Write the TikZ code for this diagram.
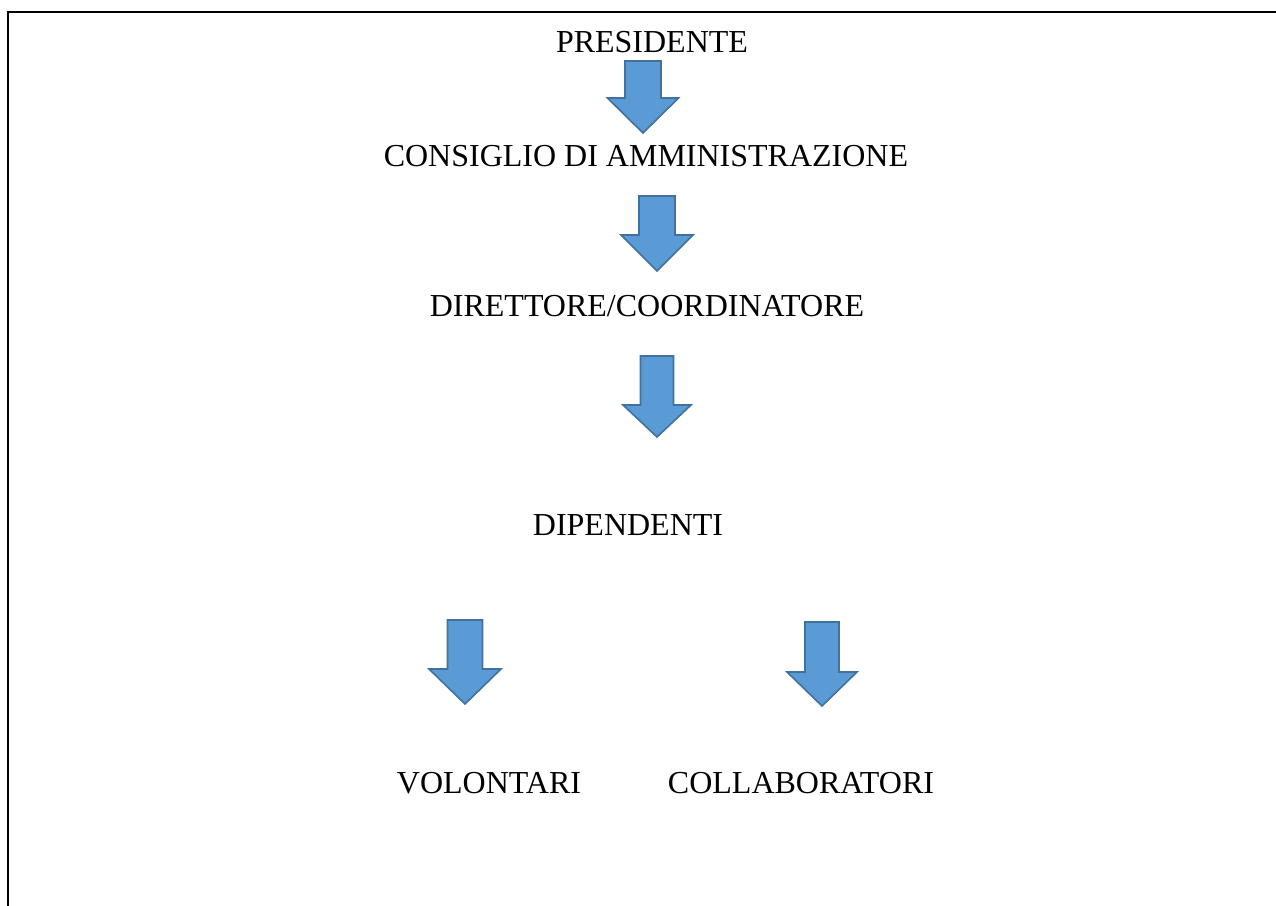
\documentclass[tikz,border=0pt]{standalone}
\usepackage{fontspec}
\setmainfont{Liberation Serif}
\usetikzlibrary{positioning}
\definecolor{arrfill}{HTML}{5B9BD5}
\definecolor{arrline}{HTML}{41719C}
\tikzset{lbl/.style={anchor=base, inner sep=0pt, font=\fontsize{16}{19}\selectfont}}
\tikzset{blockarr/.style={draw=arrline, fill=arrfill, line width=0.8pt, line join=miter}}
\tikzset{frameline/.style={draw=black, line width=1pt}}
% block arrow pointing down: centre x, top y, head y, tip y, shaft half, head half
\newcommand{\blockdown}[6]{%
  \draw[blockarr] ({#1-#5},#2) -- ({#1+#5},#2) -- ({#1+#5},#3) -- ({#1+#6},#3)
    -- (#1,#4) -- ({#1-#6},#3) -- ({#1-#5},#3) -- cycle;}
\begin{document}
\begin{tikzpicture}[x=0.5pt, y=-0.5pt]
			\useasboundingbox (0,0) rectangle (1276,906);
			\coordinate (fc) at (8,12);
			\coordinate (fr) at (1276,12);
			\coordinate (fb) at (8,906);
			\draw[frameline] (fr) -- (fc) -- (fb);
			%
			\node[lbl] (pres) at (652,52) {PRESIDENTE};
			\node[lbl] (cda) at (646,166) {CONSIGLIO DI AMMINISTRAZIONE};
			\node[lbl] (dir) at (647,316) {DIRETTORE/COORDINATORE};
			\node[lbl] (dip) at (628,535) {DIPENDENTI};
			\node[lbl] (vol) at (489,793) {VOLONTARI};
			\node[lbl] (coll) at (801,793) {COLLABORATORI};
			%
			\blockdown{643}{61}{98}{133}{18}{35.5}
			\blockdown{657}{196}{235}{271}{18}{36}
			\blockdown{657}{356}{405}{437}{16.5}{34}
			\blockdown{465}{620}{669}{704}{17.5}{36}
			\blockdown{822}{622}{672}{706}{17}{35}
\end{tikzpicture}
\end{document}
